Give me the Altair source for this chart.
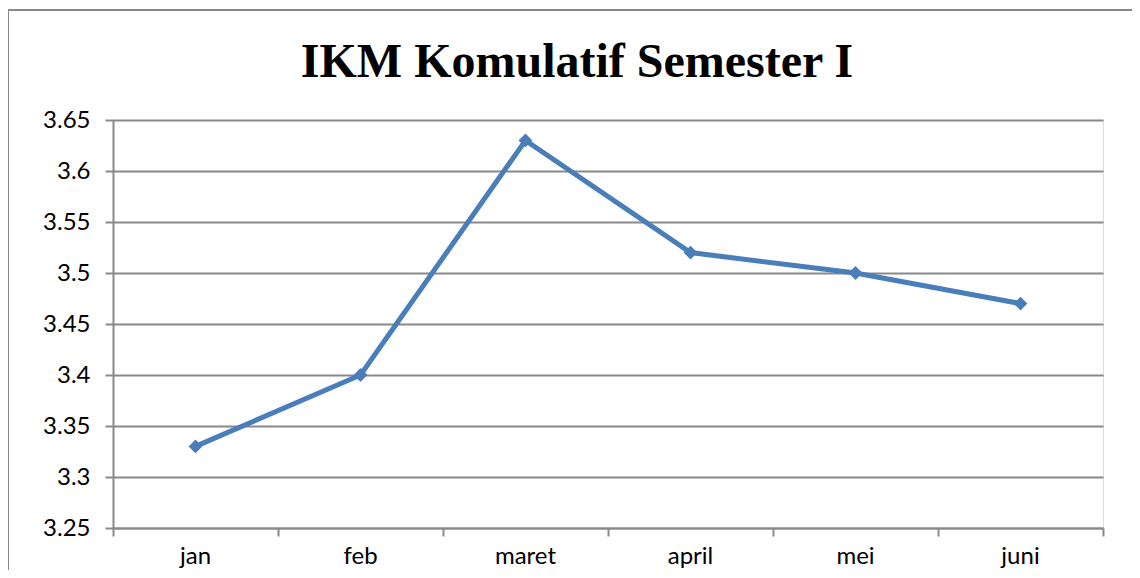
import altair as alt
import pandas as pd

months = ["jan", "feb", "maret", "april", "mei", "juni"]
values = [3.33, 3.40, 3.63, 3.52, 3.50, 3.47]
y_ticks = [3.25, 3.3, 3.35, 3.4, 3.45, 3.5, 3.55, 3.6, 3.65]

df = pd.DataFrame({"bulan": months, "ikm": values})

W, H = 990, 408
GRID = "#898989"
LINE = "#4a7ebb"
LABEL_FONT = "Lato"

x = alt.X(
    "bulan:N",
    sort=months,
    scale=alt.Scale(type="band", paddingInner=0, paddingOuter=0),
    axis=alt.Axis(
        title=None,
        labelFont=LABEL_FONT,
        labelFontSize=24,
        labelColor="#000000",
        labelAngle=0,
        labelPadding=8,
        bandPosition=1,
        tickExtra=True,
        tickSize=8,
        tickColor=GRID,
        tickWidth=2,
        domainColor=GRID,
        domainWidth=2,
        grid=False,
    ),
)
y = alt.Y(
    "ikm:Q",
    scale=alt.Scale(domain=[3.25, 3.65], nice=False, zero=False),
    axis=alt.Axis(
        title=None,
        values=y_ticks,
        format=".2~f",
        labelFont=LABEL_FONT,
        labelFontSize=24,
        labelColor="#000000",
        labelPadding=15,
        tickSize=8,
        tickColor=GRID,
        tickWidth=2,
        domainColor=GRID,
        domainWidth=2,
        grid=True,
        gridColor=GRID,
        gridWidth=2,
    ),
)

frame = alt.Chart(alt.Data(values=[{"f": 1}])).mark_rect(
    fill=None, stroke=GRID, strokeWidth=2
).encode(
    x=alt.value(-105), x2=alt.value(W + 60),
    y=alt.value(-110), y2=alt.value(H + 80),
)

line = alt.Chart(df).mark_line(color=LINE, strokeWidth=5).encode(x=x, y=y)
pts = alt.Chart(df).mark_point(
    shape="diamond", filled=True, color=LINE, size=190, opacity=1
).encode(x=x, y=y)

chart = alt.layer(frame, line, pts).properties(
    width=W,
    height=H,
    padding={"left": 105, "top": 112, "right": 29, "bottom": 42},
    autosize=alt.AutoSizeParams(type="none"),
    title=alt.TitleParams(
        "IKM Komulatif Semester I",
        font="Liberation Serif",
        fontSize=48,
        fontWeight="bold",
        color="#000000",
        anchor="middle",
        dx=-31,
        offset=-78,
    ),
).configure_view(stroke=None).configure(background="white")

chart.save("out.html", embed_options={"renderer": "svg", "actions": False})
